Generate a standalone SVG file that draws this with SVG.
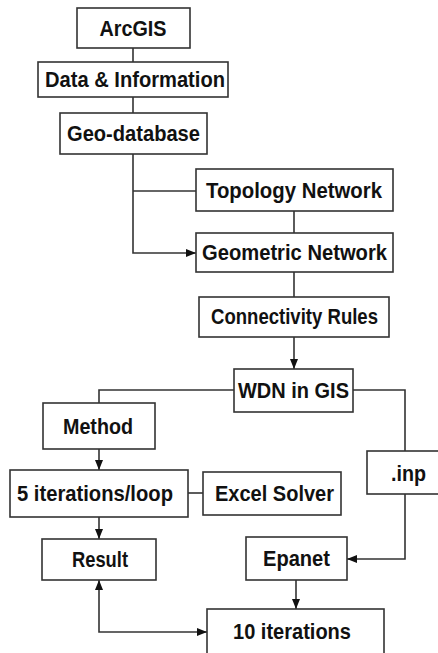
<svg xmlns="http://www.w3.org/2000/svg" width="438" height="653" viewBox="0 0 438 653">
<style>
.box{fill:#fff;stroke:#333;stroke-width:1.6}
.t{font-family:"Liberation Sans",Arial,sans-serif;font-weight:bold;font-size:22px;fill:#111;text-anchor:middle}
.c{fill:none;stroke:#333;stroke-width:1.6}
</style>
<defs>
<marker id="ah" viewBox="0 0 10 8" refX="10" refY="4" markerWidth="10" markerHeight="8" markerUnits="userSpaceOnUse" orient="auto-start-reverse">
<path d="M0,0 L10,4 L0,8 Z" fill="#111"/>
</marker>
</defs>
<rect width="438" height="653" fill="#fff"/>
<g id="connectors">
<line class="c" x1="133" y1="48" x2="133" y2="62"/>
<line class="c" x1="133" y1="97" x2="133" y2="113"/>
<polyline class="c" points="133,154 133,253 196,253" marker-end="url(#ah)"/>
<line class="c" x1="133" y1="191" x2="196" y2="191"/>
<line class="c" x1="294" y1="211" x2="294" y2="233"/>
<line class="c" x1="294" y1="272" x2="294" y2="297"/>
<line class="c" x1="294" y1="337" x2="294" y2="369" marker-end="url(#ah)"/>
<polyline class="c" points="234,390 99,390 99,403"/>
<polyline class="c" points="353,390 405,390 405,451"/>
<line class="c" x1="99" y1="449" x2="99" y2="470" marker-end="url(#ah)"/>
<line class="c" x1="188" y1="493" x2="203" y2="493"/>
<line class="c" x1="99" y1="517" x2="99" y2="539" marker-end="url(#ah)"/>
<polyline class="c" points="405,494 405,559 347,559" marker-end="url(#ah)"/>
<line class="c" x1="296" y1="580" x2="296" y2="609" marker-end="url(#ah)"/>
<polyline class="c" points="99,580 99,632 207,632" marker-start="url(#ah)" marker-end="url(#ah)"/>
</g>
<g id="arcgis"><rect class="box" x="77" y="8" width="113" height="40"/><text class="t" x="133" y="35.5" textLength="67" lengthAdjust="spacingAndGlyphs">ArcGIS</text></g>
<g id="data"><rect class="box" x="38" y="62" width="190" height="35"/><text class="t" x="135" y="87" textLength="180" lengthAdjust="spacingAndGlyphs">Data &amp; Information</text></g>
<g id="geodb"><rect class="box" x="60" y="113" width="147" height="41"/><text class="t" x="133.5" y="141" textLength="133" lengthAdjust="spacingAndGlyphs">Geo-database</text></g>
<g id="topology"><rect class="box" x="196" y="169" width="197" height="42"/><text class="t" x="294" y="197.5" textLength="176" lengthAdjust="spacingAndGlyphs">Topology Network</text></g>
<g id="geometric"><rect class="box" x="196" y="233" width="197" height="39"/><text class="t" x="294.5" y="260" textLength="185" lengthAdjust="spacingAndGlyphs">Geometric Network</text></g>
<g id="connectivity"><rect class="box" x="199" y="297" width="190" height="40"/><text class="t" x="294.5" y="324" textLength="167" lengthAdjust="spacingAndGlyphs">Connectivity Rules</text></g>
<g id="wdn"><rect class="box" x="234" y="369" width="119" height="43"/><text class="t" x="293.5" y="398" textLength="111" lengthAdjust="spacingAndGlyphs">WDN in GIS</text></g>
<g id="method"><rect class="box" x="43" y="403" width="112" height="46"/><text class="t" x="98" y="434" textLength="70" lengthAdjust="spacingAndGlyphs">Method</text></g>
<g id="iter5"><rect class="box" x="10" y="470" width="178" height="47"/><text class="t" x="95" y="501" textLength="156" lengthAdjust="spacingAndGlyphs">5 iterations/loop</text></g>
<g id="excel"><rect class="box" x="203" y="472" width="138" height="43"/><text class="t" x="274.5" y="501" textLength="119" lengthAdjust="spacingAndGlyphs">Excel Solver</text></g>
<g id="inp"><rect class="box" x="367" y="451" width="80" height="43"/><text class="t" x="408.5" y="480.5" textLength="35" lengthAdjust="spacingAndGlyphs">.inp</text></g>
<g id="result"><rect class="box" x="42" y="539" width="114" height="41"/><text class="t" x="100" y="567" textLength="56" lengthAdjust="spacingAndGlyphs">Result</text></g>
<g id="epanet"><rect class="box" x="246" y="537" width="101" height="43"/><text class="t" x="296.5" y="566" textLength="67" lengthAdjust="spacingAndGlyphs">Epanet</text></g>
<g id="iter10"><rect class="box" x="207" y="609" width="177" height="60"/><text class="t" x="292" y="638.5" textLength="118" lengthAdjust="spacingAndGlyphs">10 iterations</text></g>
</svg>
